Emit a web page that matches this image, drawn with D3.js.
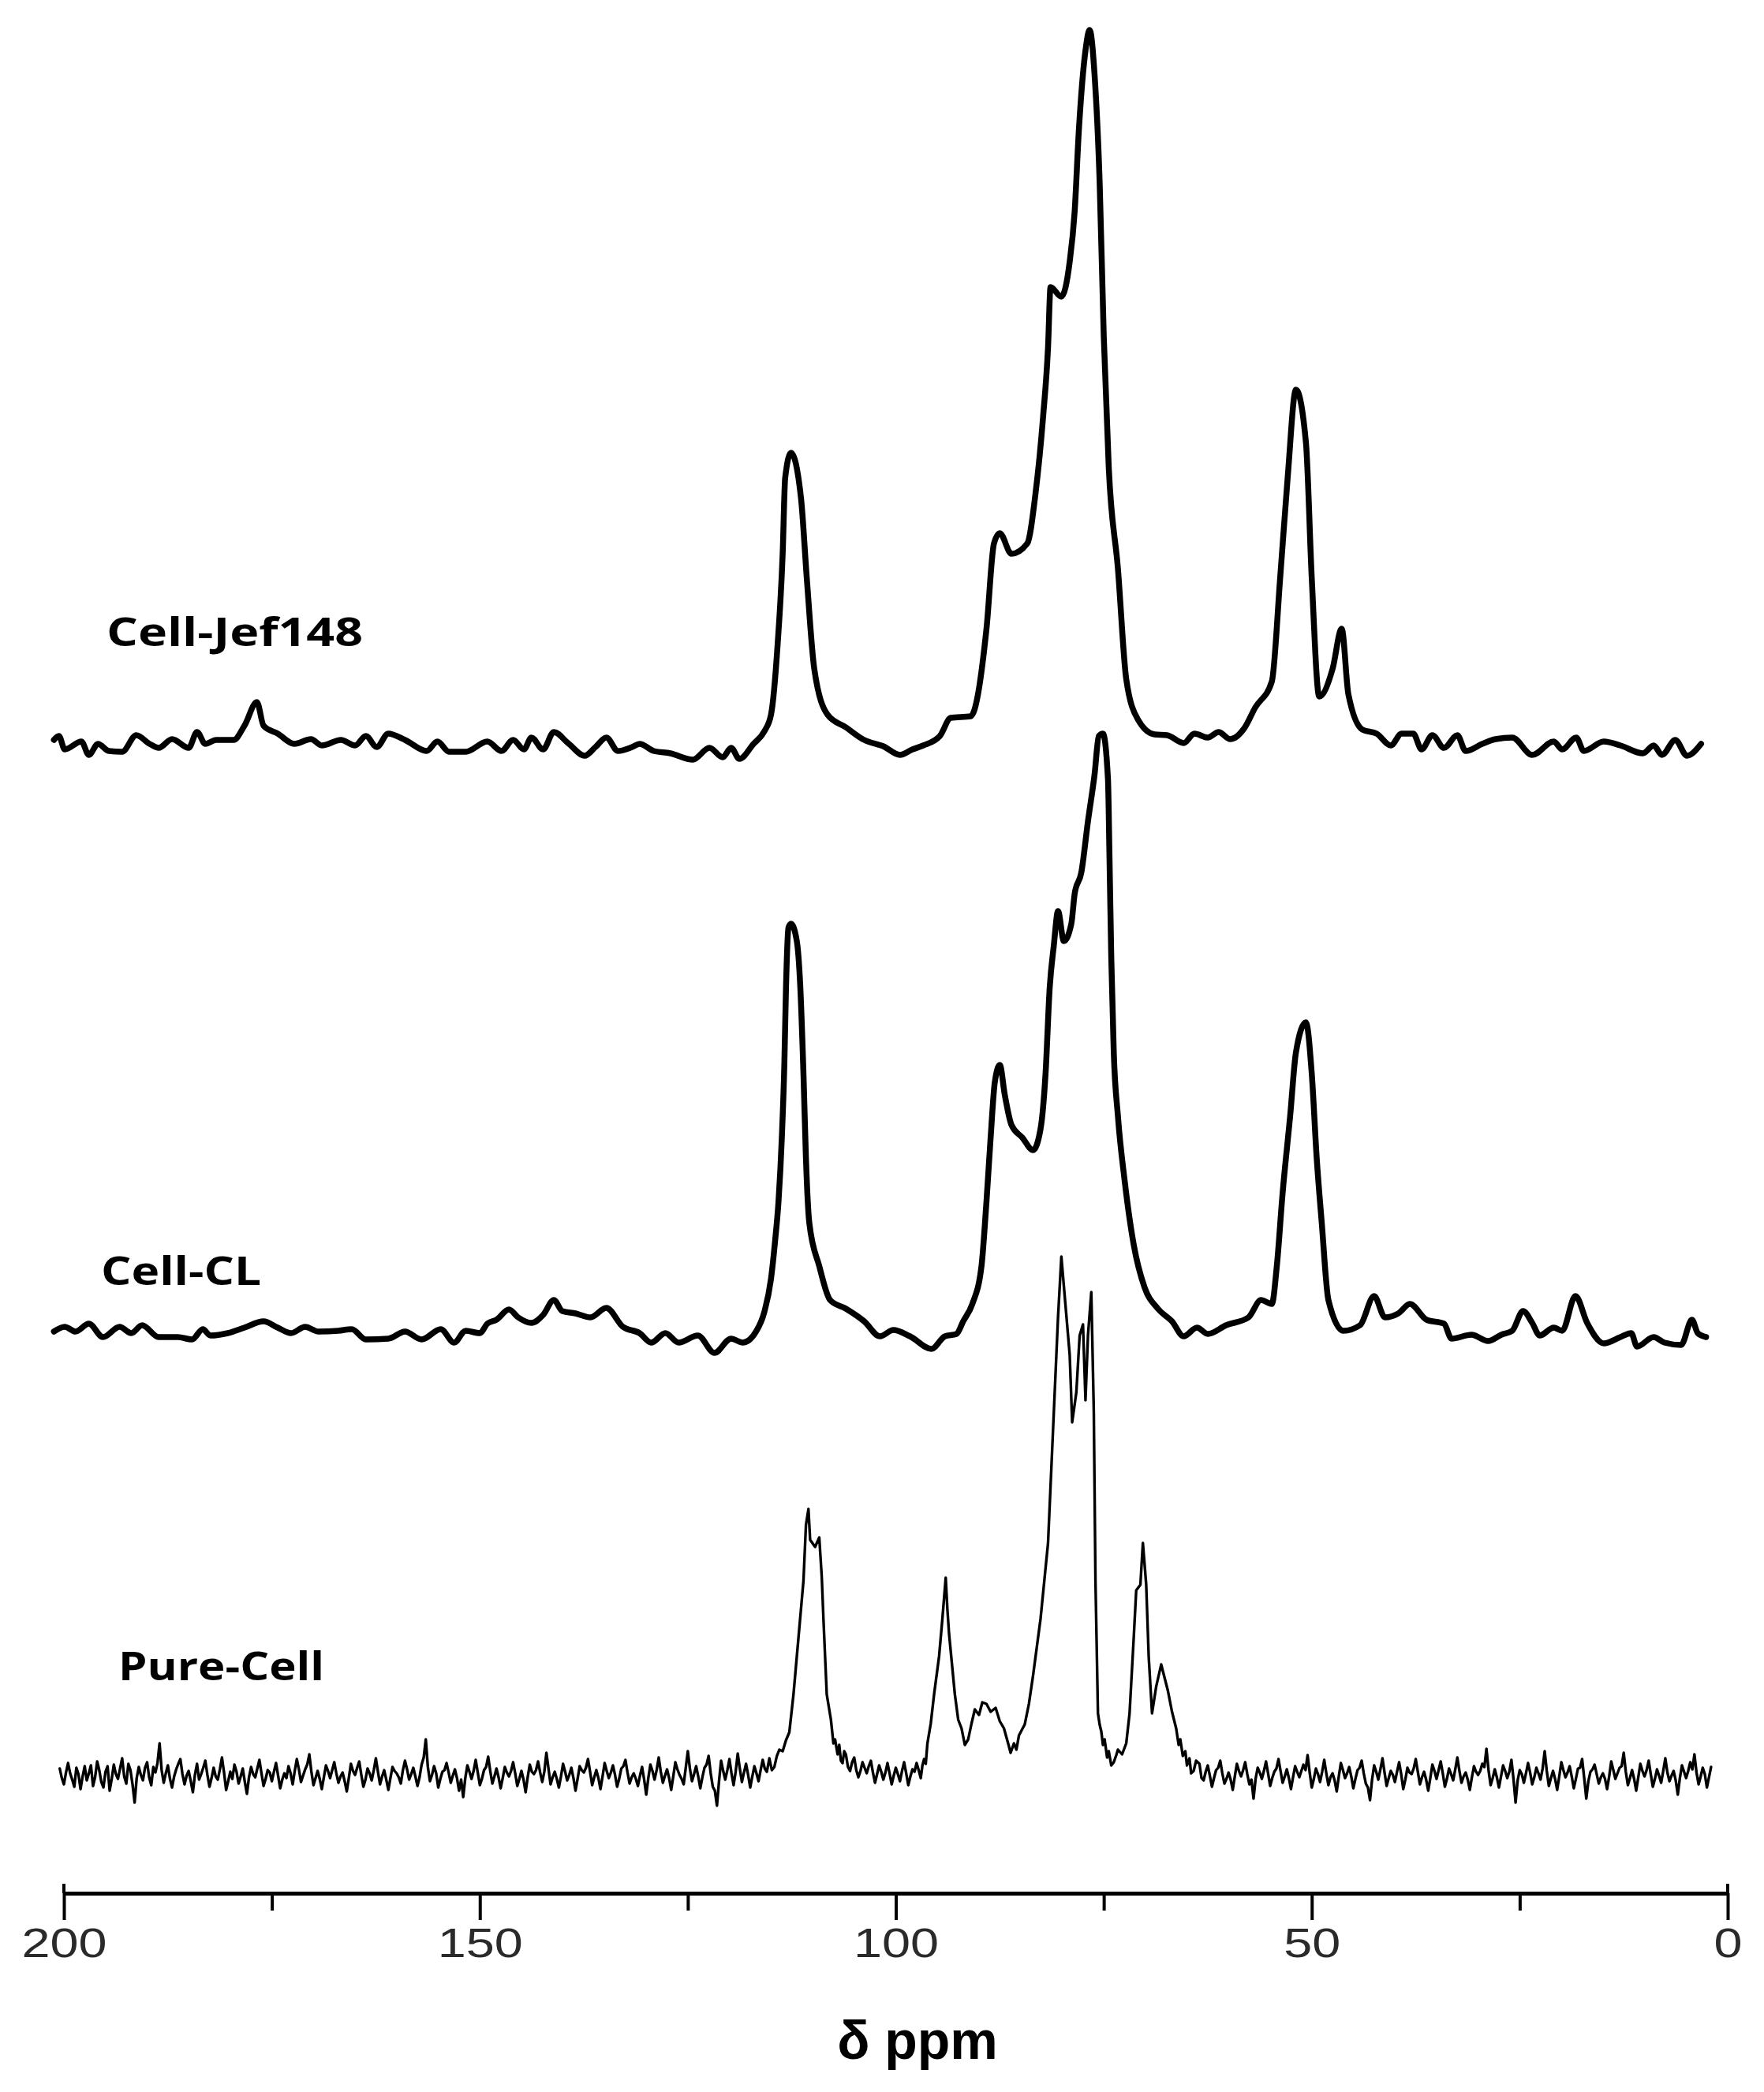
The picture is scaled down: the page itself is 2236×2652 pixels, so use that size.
<!DOCTYPE html>
<html><head><meta charset="utf-8">
<script src="https://cdn.jsdelivr.net/npm/d3@7"></script>
<style>html,body{margin:0;padding:0;background:#fff}</style>
</head><body>
<script>
// ---------------- DATA ----------------
const seriesNames = ["Cell-Jef148", "Cell-CL", "Pure-Cell"];
const majorTicks = [200, 150, 100, 50, 0];
const minorTicks = [175, 125, 75, 25];
const axisTitle = "δ ppm";

// [chemical shift (ppm), intensity (a.u.)]
const jef148 = [
[201.2,0.6],[200.6,1.1],[199.9,-0.6],[197.9,0.4],[197.0,-1.3],[195.9,0.1],[194.6,-0.8],[193.0,-0.9],
[191.3,1.2],[189.7,0.1],[188.6,-0.4],[187.0,0.7],[185.0,-0.4],[184.0,1.6],[183.0,0.1],[181.7,0.6],
[179.6,0.6],[178.3,2.4],[176.8,5.4],[176.0,2.4],[174.3,1.4],[172.3,0.1],[170.3,0.7],[169.0,-0.1],
[166.7,0.6],[165.0,-0.1],[163.7,1.1],[162.4,-0.3],[161.0,1.4],[159.0,0.6],[156.4,-0.8],[155.1,0.4],
[153.7,-0.9],[151.7,-0.9],[149.1,0.4],[147.4,-0.8],[146.0,0.6],[144.7,-0.6],[143.8,0.9],[142.4,-0.6],
[141.1,1.6],[139.4,0.2],[137.4,-1.4],[136.1,-0.3],[134.8,0.9],[133.4,-0.8],[131.7,-0.3],[130.8,0.1],
[129.1,-0.8],[127.1,-1.1],[124.4,-1.9],[122.4,-0.4],[120.8,-1.6],[119.8,-0.4],[118.8,-1.8],[117.1,0.1],
[115.8,1.7],[115.0,3.8],[114.2,12.8],[113.6,24.2],[113.3,33.8],[112.6,37.0],[111.4,31.3],[110.7,21.1],
[109.8,9.6],[108.2,3.8],[106.0,2.2],[103.8,0.6],[101.5,-0.2],[99.5,-1.3],[98.0,-0.6],[96.7,-0.1],[94.7,1.1],
[93.4,3.4],[91.0,3.6],[89.1,14.7],[88.2,25.5],[87.5,26.8],[86.1,24.2],[84.2,25.5],[83.2,31.9],
[82.3,41.5],[81.7,50.4],[81.4,58.0],[80.1,56.8],[79.1,61.2],[78.5,67.6],[78.0,77.8],[77.2,88.0],
[76.7,90.6],[76.1,84.8],[75.5,71.4],[75.0,51.7],[74.4,35.1],[73.3,22.3],[72.3,8.3],[70.9,3.2],
[68.9,1.3],[67.4,1.2],[65.4,0.2],[64.1,1.4],[62.5,0.9],[61.2,1.6],[59.8,0.7],[58.1,2.1],[56.8,4.7],
[54.8,8.0],[53.8,21.1],[52.9,33.8],[51.9,45.0],[50.7,38.3],[50.0,21.1],[49.1,6.1],[47.5,9.6],
[46.4,14.7],[45.6,6.4],[43.9,1.9],[42.2,1.4],[40.5,-0.1],[39.2,1.4],[37.8,1.4],[36.8,-0.6],[35.5,1.2],
[34.1,-0.4],[32.5,1.2],[31.5,-0.8],[29.5,0.1],[27.9,0.7],[25.9,0.9],[23.5,-1.3],[20.9,0.4],[19.9,-0.6],
[18.2,0.9],[17.3,-0.8],[14.9,0.4],[12.9,-0.1],[10.2,-1.1],[8.9,-0.1],[7.9,-1.3],[6.3,0.6],[4.9,-1.4],[3.2,0.1]
];

const cellCL = [
[201.2,0.0],[199.9,0.6],[198.6,0.0],[197.0,1.0],[195.3,-0.7],[193.3,0.6],[191.9,-0.2],[190.6,0.8],
[188.6,-0.7],[186.3,-0.7],[184.6,-1.0],[183.3,0.3],[182.4,-0.5],[180.3,-0.2],[178.3,0.5],[176.0,1.3],
[174.3,0.5],[172.7,-0.2],[171.0,0.6],[169.4,0.0],[167.0,0.1],[165.4,0.3],[163.7,-1.0],[161.0,-0.9],
[159.0,0.0],[157.0,-1.0],[154.7,0.3],[153.1,-1.4],[151.7,0.1],[150.0,-0.2],[149.1,1.0],[148.0,1.5],
[146.5,2.8],[145.4,1.8],[143.8,1.1],[142.4,2.1],[141.1,4.0],[140.1,2.6],[138.5,2.3],[136.7,1.8],
[134.8,3.0],[132.8,0.6],[130.8,-0.2],[129.4,-1.4],[127.7,-0.2],[126.1,-1.4],[123.8,-0.5],[121.8,-2.7],
[119.8,-0.9],[118.4,-1.4],[116.8,0.0],[115.8,2.5],[115.0,6.7],[114.5,11.6],[114.1,16.5],[113.7,24.6],
[113.4,33.8],[113.2,43.6],[112.9,51.2],[112.6,51.7],[111.9,49.5],[111.5,44.1],[111.1,32.7],[110.8,21.9],
[110.4,13.8],[109.2,8.3],[107.9,4.0],[106.0,2.9],[103.8,1.3],[101.9,-0.6],[100.3,0.2],[98.3,-0.6],
[95.7,-2.2],[94.1,-0.6],[92.7,-0.3],[91.9,1.3],[90.8,3.5],[89.7,8.3],[89.1,16.5],[88.6,24.6],
[88.1,31.6],[87.5,33.8],[86.9,30.0],[86.1,26.2],[84.8,24.6],[83.5,23.0],[82.6,25.7],[82.0,32.7],
[81.5,43.6],[81.0,49.0],[80.5,53.3],[79.8,49.5],[78.9,51.7],[78.5,55.5],[77.7,58.2],[76.9,64.7],
[76.1,70.7],[75.6,75.5],[75.1,75.8],[74.5,70.1],[74.3,59.3],[74.1,47.4],[73.8,35.4],[73.3,27.3],
[72.5,19.2],[71.4,11.0],[70.1,5.6],[68.5,2.9],[66.8,1.3],[65.4,-0.6],[63.8,0.5],[62.5,-0.3],
[60.3,0.8],[57.6,1.8],[56.1,4.0],[54.8,3.5],[54.2,8.3],[53.5,17.6],[52.6,27.3],[51.9,35.4],
[50.7,39.2],[50.0,32.7],[49.4,21.9],[48.8,13.8],[48.0,4.0],[46.2,0.1],[44.2,0.8],[42.5,4.5],
[41.2,1.8],[39.6,2.3],[38.2,3.5],[36.2,1.5],[34.1,1.0],[33.2,-0.9],[30.8,-0.4],[28.8,-1.2],
[27.2,-0.4],[25.9,0.1],[24.6,2.6],[23.5,1.1],[22.6,-0.5],[20.9,0.5],[19.9,0.1],[18.3,4.5],
[16.9,1.1],[14.9,-1.5],[12.9,-0.7],[11.6,-0.2],[10.9,-1.9],[8.9,-0.7],[7.6,-1.4],[5.6,-1.7],
[4.3,1.5],[3.6,-0.2],[2.6,-0.7]
];

const pureCell = [
[200.5,0.8],[200.25,-0.4],[200.0,-1.2],[199.75,0.3],[199.5,1.5],[199.25,0.2],[199.0,-0.6],[198.75,-1.5],
[198.5,0.9],[198.25,0.1],[198.0,-1.8],[197.75,-0.2],[197.5,1.1],[197.25,-0.7],[197.0,0.2],[196.75,1.2],
[196.5,-1.4],[196.25,-0.3],[196.0,1.7],[195.75,0.6],[195.5,-0.9],[195.25,-1.6],[195.0,0.4],[194.75,1.1],
[194.5,-2.0],[194.25,-0.5],[194.0,1.3],[193.75,0.1],[193.5,-0.5],[193.25,0.8],[193.0,2.1],[192.75,-0.2],
[192.5,-1.1],[192.25,1.4],[192.0,0.6],[191.75,-1.2],[191.5,-3.5],[191.25,-0.4],[191.0,1.0],[190.75,0.0],
[190.5,-0.7],[190.25,0.9],[190.0,1.6],[189.75,-0.3],[189.5,-1.3],[189.25,1.0],[189.0,0.3],[188.75,1.5],
[188.5,4.0],[188.25,0.6],[188.0,-1.0],[187.75,0.2],[187.5,1.2],[187.25,-0.5],[187.0,-1.6],[186.75,-0.2],
[186.5,0.7],[186.25,1.4],[186.0,2.0],[185.75,0.1],[185.5,-1.2],[185.25,-0.1],[185.0,0.5],[184.75,-0.8],
[184.5,-2.2],[184.25,0.0],[184.0,1.4],[183.75,-0.6],[183.5,0.1],[183.25,0.9],[183.0,1.8],[182.75,0.0],
[182.5,-1.5],[182.25,-0.4],[182.0,0.9],[181.75,-0.2],[181.5,-0.6],[181.25,0.7],[181.0,2.2],[180.75,0.3],
[180.5,-1.9],[180.25,-0.8],[180.0,0.4],[179.75,-0.5],[179.5,1.3],[179.25,0.4],[179.0,-1.1],[178.75,-0.2],
[178.5,0.8],[178.25,-0.9],[178.0,-2.4],[177.75,-0.3],[177.5,1.0],[177.25,0.1],[177.0,-0.3],[176.75,0.8],
[176.5,1.9],[176.25,0.2],[176.0,-1.4],[175.75,-0.5],[175.5,0.6],[175.25,0.3],[175.0,-0.8],[174.75,0.4],
[174.5,1.5],[174.25,-0.1],[174.0,-1.7],[173.75,-0.6],[173.5,0.2],[173.25,-0.4],[173.0,1.1],[172.75,0.2],
[172.5,-1.2],[172.25,0.5],[172.0,2.0],[171.75,0.7],[171.5,-0.9],[171.25,-0.1],[171.0,0.7],[170.75,1.3],
[170.5,2.6],[170.25,0.4],[170.0,-1.3],[169.75,-0.4],[169.5,0.5],[169.25,-0.5],[169.0,-1.8],[168.75,-0.3],
[168.5,1.2],[168.25,0.5],[168.0,-0.4],[167.75,0.6],[167.5,1.6],[167.25,0.2],[167.0,-1.0],[166.75,-0.2],
[166.5,0.3],[166.25,-0.8],[166.0,-2.1],[165.75,-0.4],[165.5,1.4],[165.25,0.5],[165.0,0.0],[164.75,0.9],
[164.5,1.7],[164.25,0.0],[164.0,-1.5],[163.75,-0.6],[163.5,0.8],[163.25,0.2],[163.0,-0.7],[162.75,0.6],
[162.5,2.1],[162.25,0.4],[162.0,-1.2],[161.75,-0.2],[161.5,0.6],[161.25,-0.6],[161.0,-1.9],[160.75,-0.4],
[160.5,1.0],[160.25,0.5],[160.0,0.2],[159.75,-0.3],[159.5,-1.1],[159.25,0.6],[159.0,1.8],[158.75,0.7],
[158.5,-0.6],[158.25,0.1],[158.0,0.9],[157.75,-0.2],[157.5,-1.4],[157.25,-0.3],[157.0,1.3],[156.75,2.2],
[156.5,4.5],[156.25,1.0],[156.0,-0.8],[155.75,0.0],[155.5,1.1],[155.25,0.2],[155.0,-1.6],[154.75,-0.5],
[154.5,0.4],[154.25,0.6],[154.0,1.5],[153.75,0.3],[153.5,-1.0],[153.25,-0.1],[153.0,0.7],[152.75,-0.4],
[152.5,-2.0],[152.25,-0.6],[152.0,-2.8],[151.75,-0.4],[151.5,1.2],[151.25,0.4],[151.0,-0.5],[150.75,0.5],
[150.5,1.9],[150.25,0.3],[150.0,-1.3],[149.75,-0.5],[149.5,0.6],[149.25,1.0],[149.0,2.3],[148.75,0.5],
[148.5,-1.1],[148.25,-0.2],[148.0,0.8],[147.75,-0.3],[147.5,-1.7],[147.25,-0.4],[147.0,1.0],[146.75,0.3],
[146.5,-0.2],[146.25,0.5],[146.0,1.6],[145.75,0.2],[145.5,-1.4],[145.25,-0.5],[145.0,0.5],[144.75,-0.6],
[144.5,-2.2],[144.25,-0.3],[144.0,1.3],[143.75,0.4],[143.5,0.1],[143.25,0.6],[143.0,1.7],[142.75,0.3],
[142.5,-0.9],[142.25,0.4],[142.0,2.8],[141.75,0.8],[141.5,-1.2],[141.25,-0.3],[141.0,0.4],[140.75,-0.5],
[140.5,-1.6],[140.25,-0.2],[140.0,1.4],[139.75,0.4],[139.5,-0.7],[139.25,0.0],[139.0,0.9],[138.75,-0.4],
[138.5,-2.0],[138.25,-0.5],[138.0,1.1],[137.75,0.6],[137.5,0.3],[137.25,0.9],[137.0,2.0],[136.75,0.4],
[136.5,-1.3],[136.25,-0.3],[136.0,0.6],[135.75,-0.4],[135.5,-1.8],[135.25,-0.2],[135.0,1.5],[134.75,0.5],
[134.5,-0.4],[134.25,0.3],[134.0,1.2],[133.75,0.0],[133.5,-1.5],[133.25,-0.5],[133.0,0.8],[132.75,1.1],
[132.5,1.9],[132.25,0.3],[132.0,-1.1],[131.75,-0.3],[131.5,0.2],[131.25,-0.5],[131.0,-1.4],[130.75,-0.1],
[130.5,1.0],[130.25,-0.6],[130.0,-2.5],[129.75,-0.4],[129.5,1.3],[129.25,0.5],[129.0,-0.6],[128.75,0.6],
[128.5,2.2],[128.25,0.4],[128.0,-1.0],[127.75,-0.1],[127.5,0.7],[127.25,-0.4],[127.0,-1.9],[126.75,-0.2],
[126.5,1.6],[126.25,0.7],[126.0,0.0],[125.75,-0.5],[125.5,-1.2],[125.25,0.9],[125.0,3.0],[124.75,0.8],
[124.5,-0.8],[124.25,0.1],[124.0,1.1],[123.75,-0.2],[123.5,-1.7],[123.25,-0.3],[123.0,0.9],[122.75,1.3],
[122.5,2.4],[122.25,0.2],[122.0,-1.5],[121.75,-2.0],[121.5,-3.9],[121.25,-0.8],[121.0,1.8],[120.75,0.5],
[120.5,-0.6],[120.25,0.6],[120.0,2.0],[119.75,0.2],[119.5,-1.3],[119.25,0.4],[119.0,2.7],[118.75,0.8],
[118.5,-0.9],[118.25,0.3],[118.0,1.4],[117.75,0.0],[117.5,-1.6],[117.25,-0.2],
[117.0,1.1],[116.75,0.2],[116.5,-0.8],[116.25,0.6],[116.0,1.9],[115.75,0.8],[115.5,0.4],[115.2,2.1],
[114.9,0.6],[114.6,1.0],[114.3,2.4],[114.0,3.2],[113.6,3.0],[113.2,4.4],[112.8,5.4],[112.3,10.2],
[111.7,17.4],[111.1,24.6],[110.8,31.7],[110.5,33.7],[110.3,29.8],[109.7,28.9],[109.2,30.1],[108.9,25.1],
[108.7,19.8],[108.3,10.2],[107.8,7.0],[107.5,4.0],[107.3,4.5],[107.0,2.6],[106.8,3.8],[106.6,1.8],
[106.4,1.5],[106.2,3.0],[106.0,2.6],[105.75,1.0],[105.5,0.5],[105.25,1.6],[105.0,2.2],[104.75,0.6],
[104.5,-0.3],[104.25,0.5],[104.0,1.6],[103.75,0.9],[103.5,0.2],[103.25,1.1],[103.0,1.8],[102.75,0.3],
[102.5,-1.0],[102.25,0.1],[102.0,1.2],[101.75,0.4],[101.5,-0.6],[101.25,0.3],[101.0,1.5],[100.75,0.2],
[100.5,-1.2],[100.25,-0.1],[100.0,0.9],[99.75,0.1],[99.5,-0.8],[99.25,0.5],[99.0,1.6],[98.75,0.2],
[98.5,-1.3],[98.25,-0.2],[98.0,0.7],[97.75,0.4],[97.5,1.5],[97.25,0.6],[97.0,-0.4],[96.8,1.2],
[96.6,2.0],[96.4,1.4],[96.2,4.0],[95.8,6.5],[95.4,10.2],[94.8,15.0],[94.4,19.8],[94.0,25.0],
[93.8,21.0],[93.6,17.9],[92.9,10.2],[92.5,7.0],[92.1,5.9],[91.7,3.8],[91.3,4.5],[90.9,6.5],
[90.5,8.3],[90.0,7.6],[89.6,9.2],[89.1,9.0],[88.6,8.0],[88.0,8.5],[87.5,6.8],[87.0,5.9],
[86.5,4.0],[86.2,2.8],[85.8,4.0],[85.5,3.2],[85.2,5.0],[84.5,6.4],[84.0,9.0],[83.5,12.6],
[82.6,19.8],[81.7,29.4],[81.0,46.1],[80.5,58.0],[80.1,65.7],[79.6,59.5],[79.1,53.3],[78.8,44.7],
[78.3,48.5],[77.9,55.7],[77.5,57.1],[77.2,47.5],[76.9,55.7],[76.5,61.2],[76.2,46.1],[76.0,24.6],
[75.7,7.8],[75.5,6.4],[75.3,5.5],[75.1,3.8],[74.9,4.5],[74.6,2.2],[74.4,3.0],[74.1,1.2],
[73.8,1.6],[73.5,2.5],[73.3,3.2],[72.8,2.6],[72.3,4.0],[71.9,7.8],[71.4,17.4],[71.1,23.4],
[70.6,24.1],[70.3,29.4],[69.9,24.1],[69.6,15.0],[69.2,7.8],[68.7,11.2],[68.1,14.0],[67.3,10.7],
[66.8,8.0],[66.3,5.9],[66.0,3.8],[65.8,4.5],[65.5,2.4],[65.2,3.0],[65.0,1.2],[64.7,2.1],
[64.5,0.2],[64.2,0.5],[63.9,1.8],[63.5,1.4],[63.25,-0.4],
[63.0,-0.7],[62.75,0.4],[62.5,1.2],[62.25,-0.1],[62.0,-1.5],[61.75,-0.4],[61.5,0.6],[61.25,0.9],
[61.0,1.8],[60.75,0.2],[60.5,-1.1],[60.25,-0.5],[60.0,0.3],[59.75,-0.6],[59.5,-1.9],[59.25,-0.2],
[59.0,1.4],[58.75,0.5],[58.5,-0.2],[58.25,0.6],[58.0,1.6],[57.75,0.1],[57.5,-1.2],[57.25,-0.6],
[57.0,-3.0],[56.75,-0.5],[56.5,0.9],[56.25,0.3],[56.0,-0.5],[55.75,0.5],[55.5,1.7],[55.25,0.2],
[55.0,-1.4],[54.75,-0.4],[54.5,0.4],[54.25,0.8],[54.0,2.0],[53.75,0.5],[53.5,-1.0],[53.25,-0.2],
[53.0,0.7],[52.75,-0.4],[52.5,-1.8],[52.25,-0.3],[52.0,1.1],[51.75,0.4],[51.5,-0.3],[51.25,0.5],
[51.0,1.3],[50.75,0.6],[50.5,2.5],[50.25,0.3],[50.0,-1.6],[49.75,-0.5],[49.5,0.8],[49.25,0.1],
[49.0,-0.9],[48.75,0.4],[48.5,1.9],[48.25,0.2],[48.0,-1.3],[47.75,-0.3],[47.5,0.2],[47.25,-0.7],
[47.0,-2.1],[46.75,-0.2],[46.5,1.5],[46.25,0.6],[46.0,-0.4],[45.75,0.2],[45.5,1.0],[45.25,-0.2],
[45.0,-1.7],[44.75,-0.5],[44.5,0.6],[44.25,0.9],[44.0,1.8],[43.75,0.2],[43.5,-1.1],[43.25,-1.6],
[43.0,-3.2],[42.75,-0.6],[42.5,1.2],[42.25,0.4],[42.0,-0.6],[41.75,0.7],[41.5,2.1],[41.25,0.3],
[41.0,-1.4],[40.75,-0.4],[40.5,0.5],[40.25,0.0],[40.0,-0.9],[39.75,0.4],[39.5,1.6],[39.25,0.1],
[39.0,-1.8],[38.75,-0.6],[38.5,0.9],[38.25,0.3],[38.0,0.1],[37.75,0.8],[37.5,2.0],[37.25,0.4],
[37.0,-1.2],[36.75,-0.3],[36.5,0.4],[36.25,-0.6],[36.0,-2.0],[35.75,-0.4],[35.5,1.3],[35.25,0.5],
[35.0,-0.5],[34.75,0.6],[34.5,1.7],[34.25,0.2],[34.0,-1.5],[33.75,-0.5],[33.5,0.8],[33.25,0.1],
[33.0,-0.7],[32.75,0.7],[32.5,2.2],[32.25,0.5],[32.0,-1.0],[31.75,-0.2],[31.5,0.3],[31.25,-0.6],
[31.0,-1.9],[30.75,-0.3],[30.5,1.1],[30.25,0.4],[30.0,0.0],[29.75,0.5],[29.5,1.4],[29.25,1.0],
[29.0,3.3],[28.75,0.6],[28.5,-1.3],[28.25,-0.4],[28.0,0.7],[27.75,-0.3],[27.5,-1.6],[27.25,-0.2],
[27.0,1.2],[26.75,0.5],[26.5,-0.4],[26.25,0.4],[26.0,1.9],[25.75,-0.5],[25.5,-3.5],[25.25,-0.7],
[25.0,0.6],[24.75,0.1],[24.5,-1.0],[24.25,0.2],[24.0,1.5],[23.75,0.3],[23.5,-1.2],[23.25,-0.3],
[23.0,0.9],[22.75,0.2],[22.5,-0.6],[22.25,0.8],[22.0,3.0],[21.75,0.5],[21.5,-1.4],[21.25,-0.4],
[21.0,0.5],[20.75,-0.5],[20.5,-1.9],[20.25,-0.2],[20.0,1.6],[19.75,0.6],[19.5,-0.3],[19.25,0.3],
[19.0,1.1],[18.75,-0.2],[18.5,-1.7],[18.25,-0.5],[18.0,0.8],[17.75,0.9],[17.5,2.0],[17.25,-0.4],
[17.0,-3.0],[16.75,-0.8],[16.5,0.4],[16.25,0.7],[16.0,1.3],[15.75,0.1],[15.5,-1.1],[15.25,-0.3],
[15.0,0.2],[14.75,-0.5],[14.5,-1.8],[14.25,-0.2],[14.0,1.7],[13.75,0.6],[13.5,-0.5],[13.25,0.2],
[13.0,0.9],[12.75,1.1],[12.5,2.8],[12.25,0.4],[12.0,-1.3],[11.75,-0.4],[11.5,0.6],[11.25,-0.5],
[11.0,-2.0],[10.75,-0.3],[10.5,1.4],[10.25,0.5],[10.0,-0.2],[9.75,0.6],[9.5,1.8],[9.25,0.1],
[9.0,-1.5],[8.75,-0.5],[8.5,0.7],[8.25,-0.1],[8.0,-1.0],[7.75,0.5],[7.5,2.1],[7.25,0.3],
[7.0,-0.8],[6.75,-0.1],[6.5,0.5],[6.25,-0.7],[6.0,-2.5],[5.75,-0.4],[5.5,1.2],[5.25,0.4],
[5.0,-0.4],[4.75,0.5],[4.5,1.6],[4.25,0.7],[4.0,2.6],[3.75,0.3],[3.5,-1.2],[3.25,-0.2],
[3.0,0.9],[2.75,0.1],[2.5,-1.6],[2.25,-0.3],[2.0,1.0]
];

const seriesData = [jef148, cellCL, pureCell];

// ---------------- LAYOUT ----------------
const W = 2236, H = 2652;
const axisY = 2400;
const baselines = [944, 1688, 2250];
const strokeWidths = [7.5, 7.5, 3.4];
const smooth = [true, true, false];
const labelPos = [
  {x: 135, y: 819, len: 325},
  {x: 128, y: 1629, len: 203},
  {x: 150, y: 2130, len: 261}
];

const svg = d3.select("body").append("svg")
  .attr("width", W).attr("height", H)
  .style("background", "#fff");

const x = d3.scaleLinear().domain([200, 0]).range([81, 2190]);
const yI = d3.scaleLinear().domain([0, 100]).range([0, -1000]);

seriesData.forEach((data, i) => {
  const line = d3.line()
    .x(d => x(d[0]))
    .y(d => baselines[i] + yI(d[1]))
    .curve(smooth[i] ? d3.curveMonotoneX : d3.curveLinear);
  svg.append("path")
    .datum(data)
    .attr("d", line)
    .attr("fill", "none")
    .attr("stroke", "#000")
    .attr("stroke-width", strokeWidths[i])
    .attr("stroke-linejoin", "round")
    .attr("stroke-linecap", "round");
});

seriesNames.forEach((name, i) => {
  svg.append("text")
    .attr("x", labelPos[i].x)
    .attr("y", labelPos[i].y)
    .attr("textLength", labelPos[i].len)
    .attr("lengthAdjust", "spacingAndGlyphs")
    .style("font-family", "'Open Sans', 'Noto Sans', sans-serif")
    .style("font-weight", "700")
    .style("font-size", "50px")
    .attr("fill", "#000")
    .text(name);
});

// axis
const gAxis = svg.append("g").attr("transform", `translate(0,${axisY})`);
const majorAxis = d3.axisBottom(x).tickValues(majorTicks).tickSize(34).tickSizeOuter(0).tickPadding(10)
  .tickFormat(d3.format("d"));
gAxis.call(majorAxis);
gAxis.select(".domain").attr("stroke", "#000").attr("stroke-width", 5);
gAxis.selectAll(".tick line").attr("stroke", "#000").attr("stroke-width", 4);
gAxis.selectAll(".tick text")
  .style("font-family", "'Liberation Sans', Arial, sans-serif")
  .style("font-size", "52px")
  .attr("fill", "#2a2a2a")
  .attr("dy", "0.71em")
  .attr("textLength", d => String(d).length * 36)
  .attr("lengthAdjust", "spacingAndGlyphs");

const gMinor = svg.append("g").attr("transform", `translate(0,${axisY})`);
gMinor.call(d3.axisBottom(x).tickValues(minorTicks).tickSize(22).tickSizeOuter(0).tickFormat(""));
gMinor.select(".domain").remove();
gMinor.selectAll(".tick line").attr("stroke", "#000").attr("stroke-width", 4);

// end ticks extend slightly above the axis line
[200, 0].forEach(v => {
  svg.append("line")
    .attr("x1", x(v)).attr("x2", x(v))
    .attr("y1", axisY - 12).attr("y2", axisY)
    .attr("stroke", "#000").attr("stroke-width", 4);
});

svg.append("text")
  .attr("x", 1163).attr("y", 2610)
  .attr("text-anchor", "middle")
  .style("font-family", "'Liberation Sans', Arial, sans-serif")
  .style("font-weight", "700")
  .style("font-size", "68px")
  .attr("fill", "#000")
  .text(axisTitle);
</script>
</body></html>
